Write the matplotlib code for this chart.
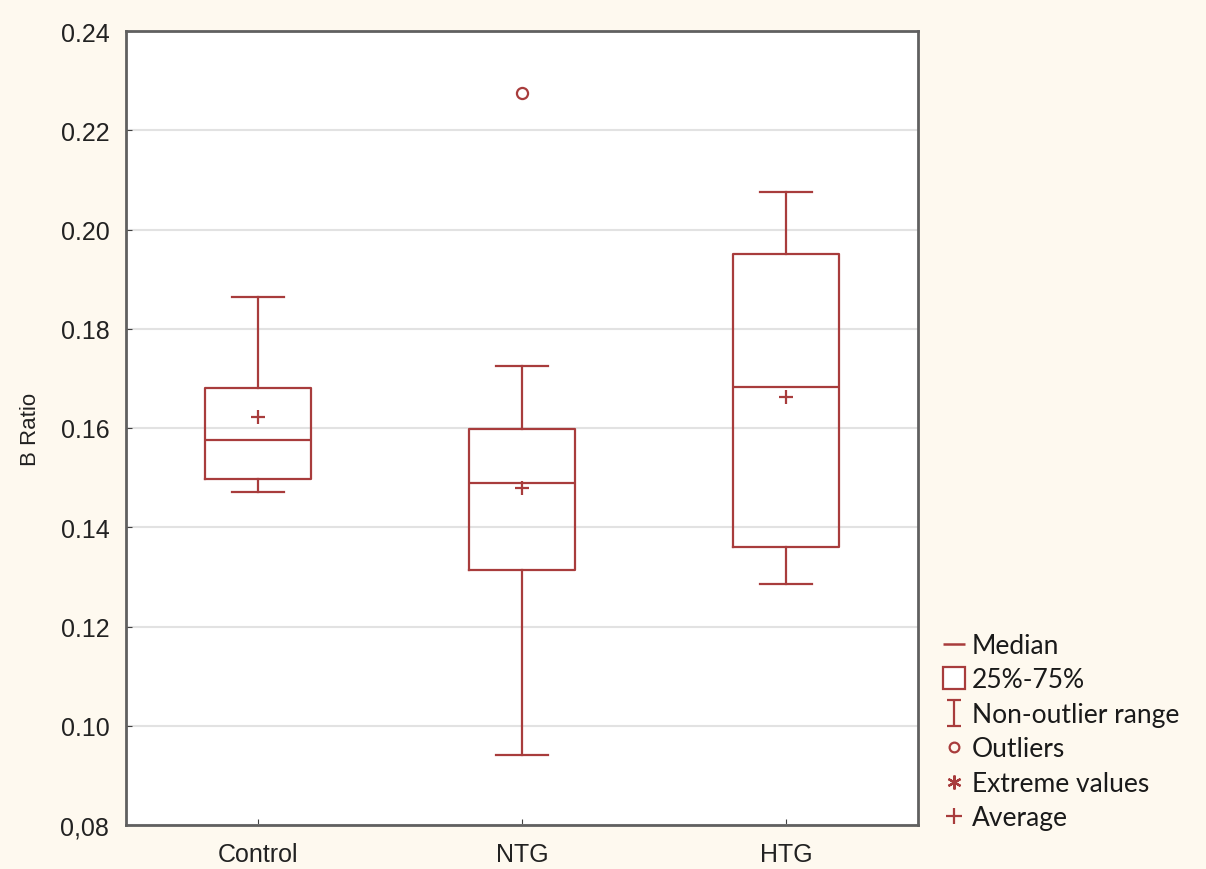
"""
Box plot of B ratio by group
"""
import numpy as np
import matplotlib.pyplot as plt
from matplotlib.lines import Line2D
from matplotlib.path import Path

# Data
groups = ['Control', 'NTG', 'HTG']
medians = [0.1576, 0.1489, 0.1683]
q1 = [0.1497, 0.1314, 0.1360]
q3 = [0.1681, 0.1598, 0.1951]
whislo = [0.1471, 0.0941, 0.1286]
whishi = [0.1864, 0.1725, 0.2076]
means = [0.1622, 0.1479, 0.1662]
outliers = [[], [0.2275], []]

red = '#a83c3c'
cream = '#fef9ef'

fig = plt.figure(figsize=(12.06, 8.7), dpi=100)
fig.patch.set_facecolor(cream)
ax = fig.add_axes([126/1206, 1-826/870, 792/1206, 794/870])
ax.set_facecolor('white')

# Build stats for bxp
stats = []
for i, g in enumerate(groups):
    stats.append(dict(label=g, med=medians[i], q1=q1[i], q3=q3[i],
                      whislo=whislo[i], whishi=whishi[i], mean=means[i],
                      fliers=outliers[i]))

ax.bxp(stats, positions=range(len(groups)), widths=0.4, showmeans=True,
       boxprops=dict(color=red, linewidth=1.6),
       whiskerprops=dict(color=red, linewidth=1.6),
       capprops=dict(color=red, linewidth=1.6),
       medianprops=dict(color=red, linewidth=1.6),
       meanprops=dict(marker='+', markeredgecolor=red, markersize=10,
                      markeredgewidth=1.6),
       flierprops=dict(marker='o', markerfacecolor='none', markeredgecolor=red,
                       markersize=8, markeredgewidth=1.6),
       capwidths=0.2)

ax.set_xlim(-0.5, 2.5)
ax.set_ylim(0.08, 0.24)
ax.set_yticks(np.arange(0.08, 0.2401, 0.02))
ax.set_yticklabels(['0,08', '0.10', '0.12', '0.14', '0.16', '0.18',
                    '0.20', '0.22', '0.24'])
ax.yaxis.grid(True, color='#e2e2e2', linewidth=1.5)
ax.set_axisbelow(True)

for s in ax.spines.values():
    s.set_color('#606060')
    s.set_linewidth(2)

ax.tick_params(direction='in', length=4, color='#404040',
               labelsize=18, labelcolor='#222222', pad=12)
ax.tick_params(axis='x', pad=12)
for lab in ax.get_xticklabels() + ax.get_yticklabels():
    lab.set_family('Liberation Sans')

ax.set_ylabel('B Ratio', fontsize=16, family='Liberation Sans',
              color='#222222', labelpad=14)

# Legend
ibeam = Path([(0, -1), (0, 1), (-0.55, 1), (0.55, 1), (-0.55, -1), (0.55, -1)],
             [Path.MOVETO, Path.LINETO, Path.MOVETO, Path.LINETO,
              Path.MOVETO, Path.LINETO])
handles = [
    Line2D([], [], ls='none', marker='_', markersize=16, markeredgecolor=red,
           markeredgewidth=1.8),
    Line2D([], [], ls='none', marker='s', markersize=16, markerfacecolor='white',
           markeredgecolor=red, markeredgewidth=1.6),
    Line2D([], [], ls='none', marker=ibeam, markersize=19, markeredgecolor=red,
           markeredgewidth=1.6),
    Line2D([], [], ls='none', marker='o', markersize=7, markerfacecolor='none',
           markeredgecolor=red, markeredgewidth=1.6),
    Line2D([], [], ls='none', marker=(6, 2, 0), markersize=10,
           markeredgecolor=red, markeredgewidth=1.6),
    Line2D([], [], ls='none', marker='+', markersize=11, markeredgecolor=red,
           markeredgewidth=1.6),
]
labels = ['Median', '25%-75%', 'Non-outlier range', 'Outliers',
          'Extreme values', 'Average']
fig.legend(handles, labels, loc='lower left',
           bbox_to_anchor=(918/1206, 1-855/870), frameon=False,
           prop=dict(family='Lato', size=19), handlelength=0.9,
           handletextpad=0.25, labelspacing=0.36, labelcolor='#1a1a1a')

fig.savefig('out.png', dpi=100, facecolor=cream)
